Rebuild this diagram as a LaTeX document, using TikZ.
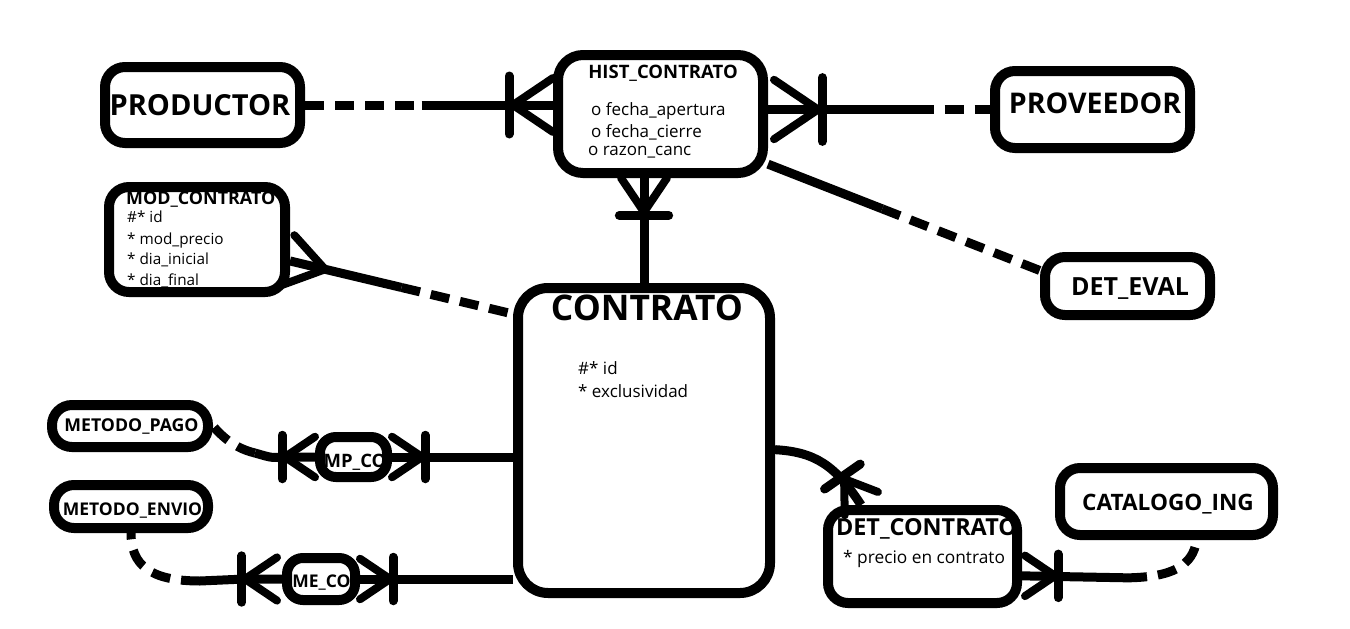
\documentclass[tikz,border=0pt]{standalone}
\usepackage{fontspec}
\setmainfont{Open Sans}
\usetikzlibrary{calc}

\tikzset{
  entity/.style={draw, line width=10pt, rounded corners=20pt, fill=white, inner sep=0pt},
  entitytitle/.style={font=\bfseries\fontsize{#1}{#1}\selectfont, inner sep=0pt, anchor=base},
  attrtext/.style={font=\fontsize{#1}{#1}\selectfont, inner sep=0pt, anchor=base west},
  solidline/.style={line width=9pt},
  dashline/.style={line width=9pt, dash pattern=on 19pt off 11pt},
  crowfoot/.pic={\draw[line width=8pt, line cap=round, line join=round] (40,-27) -- (0,0) -- (40,27);},
  crowbar/.pic={\draw[line width=8pt, line cap=round, line join=round] (40,-27) -- (0,0) -- (40,27);
    \draw[line width=9pt, line cap=round] (-4,-29) -- (-4,29);}
}

\begin{document}
\begin{tikzpicture}[x=1pt, y=-1pt]
\useasboundingbox (0,0) rectangle (1350,629);

% entities
\node[entity, minimum width=195pt, minimum height=76pt] (prod) at (202.5,105) {};
\node[entity, minimum width=205pt, minimum height=118pt, rounded corners=25pt] (hist) at (660.5,114) {};
\node[entity, minimum width=195pt, minimum height=77pt] (prov) at (1092.5,109.5) {};
\node[entity, minimum width=176pt, minimum height=105pt] (modc) at (197,239.5) {};
\node[entity, minimum width=165pt, minimum height=58pt] (deval) at (1127.5,286) {};
\node[entity, minimum width=252pt, minimum height=305pt, rounded corners=30pt] (contr) at (644,440.5) {};
\node[entity, minimum width=156pt, minimum height=42pt] (mpago) at (130,426) {};
\node[entity, minimum width=67pt, minimum height=40pt, rounded corners=16pt] (mpco) at (353.5,457) {};
\node[entity, minimum width=154pt, minimum height=43pt] (menvio) at (131,506.5) {};
\node[entity, minimum width=68pt, minimum height=42pt, rounded corners=16pt] (meco) at (321,579) {};
\node[entity, minimum width=189pt, minimum height=93pt] (detc) at (922.5,556.5) {};
\node[entity, minimum width=213pt, minimum height=67pt] (cat) at (1166.5,501.5) {};

% PRODUCTOR -- HIST_CONTRATO
\coordinate (ph) at ($(prod.east)!0.47!(prod.east -| hist.west)$);
\draw[dashline] (prod.east) -- (ph);
\draw[solidline] (ph) -- (prod.east -| hist.west);
\pic at ($(prod.east -| hist.west)+(-40,0)$) {crowbar};

% HIST_CONTRATO -- PROVEEDOR
\coordinate (hp) at ($(hist.east |- prov.west)!0.66!(prov.west)$);
\draw[solidline] (hist.east |- prov.west) -- (hp);
\draw[dashline] (hp) -- (prov.west);
\pic[rotate=180, scale=1.1] at ($(hist.east |- prov.west)+(50,0)$) {crowbar};

% HIST_CONTRATO -- CONTRATO
\draw[solidline] (contr.north) -- (contr.north |- hist.south);
\pic[rotate=90, scale=0.85] at ($(contr.north |- hist.south)+(0,34)$) {crowbar};

% HIST_CONTRATO -- DET_EVAL
\coordinate (hd) at ($(hist.-25)!0.42!(deval.170)$);
\draw[solidline] (hist.-25) -- (hd);
\draw[dashline] (hd) -- (deval.170);

% MOD_CONTRATO -- CONTRATO
\coordinate (mc) at ($(modc.-13)!0.5!(contr.136)$);
\draw[solidline] (modc.-13) -- (mc);
\draw[dashline] (mc) -- (contr.136);
\pic[rotate=166, scale=0.95] at ($(modc.-13)!36pt!(contr.136)$) {crowfoot};

% CONTRATO -- MP_CO -- METODO_PAGO
\draw[solidline] (mpco.east -| contr.west) -- (mpco.east);
\pic[rotate=180, scale=0.75] at ($(mpco.east)+(30,0)$) {crowbar};
\coordinate (mp) at (255,453);
\draw[solidline] (mpco.west) -- ++(-30,0) .. controls (272,458) .. (mp);
\draw[dashline] (mp) .. controls (238,449) and (225,440) .. (mpago.east);
\pic[scale=0.75] at ($(mpco.west)+(-30,0)$) {crowbar};

% CONTRATO -- ME_CO -- METODO_ENVIO
\draw[solidline] (meco.east -| contr.west) -- (meco.east);
\pic[rotate=180, scale=0.75] at ($(meco.east)+(30,0)$) {crowbar};
\coordinate (me) at (200,581);
\draw[solidline] (meco.west) -- ++(-37,0) -- (me);
\draw[dashline] (me) .. controls (150,581) and (131,565) .. (menvio.south);
\pic[scale=0.8] at ($(meco.west)+(-37,0)$) {crowbar};

% CONTRATO -- DET_CONTRATO
\draw[solidline] (contr.-4) .. controls (815,452) and (835,465) .. (detc.140);
\pic[rotate=-55, scale=0.75] at ($(detc.140)+(-17,-26)$) {crowbar};

% DET_CONTRATO -- CATALOGO_ING
\coordinate (dc) at ($(detc.-11)+(106,2)$);
\draw[solidline] (detc.-11) -- (dc);
\draw[dashline] (dc) .. controls (1172,577) and (1193,566) .. (cat.-52);
\pic[rotate=180, scale=0.75] at ($(detc.-11)+(33,0)$) {crowbar};

% texts
\node[entitytitle=29] (prod-t) at (200,115) {PRODUCTOR};
\node[entitytitle=28.5] (prov-t) at (1095,113) {PROVEEDOR};
\node[entitytitle=25] (deval-t) at (1130,295) {DET\_EVAL};
\node[entitytitle=17.7] (mpago-t) at (131.5,431) {METODO\_PAGO};
\node[entitytitle=18.5] (mpco-t) at (355,467) {MP\_CO};
\node[entitytitle=17.5] (menvio-t) at (132.5,515) {METODO\_ENVIO};
\node[entitytitle=17.5] (meco-t) at (321.5,587) {ME\_CO};
\node[entitytitle=22.6] (cat-t) at (1168,510) {CATALOGO\_ING};

\node[entitytitle=18.5] (hist-t) at (663,78) {HIST\_CONTRATO};
\node[attrtext=17] (hist-a1) at (591,115) {o fecha\_apertura};
\node[attrtext=17] (hist-a2) at (591,137) {o fecha\_cierre};
\node[attrtext=17] (hist-a3) at (588,155) {o razon\_canc};

\node[entitytitle=17.9, anchor=base west] (modc-t) at (126,204) {MOD\_CONTRATO};
\node[attrtext=15.3] (modc-a1) at (127,222) {\#* id};
\node[attrtext=15.3] (modc-a2) at (127,244) {* mod\_precio};
\node[attrtext=15.3] (modc-a3) at (127,264) {* dia\_inicial};
\node[attrtext=15.3] (modc-a4) at (127,285) {* dia\_final};

\node[entitytitle=35.3] (contr-t) at (647,320) {CONTRATO};
\node[attrtext=17] (contr-a1) at (578,374) {\#* id};
\node[attrtext=17] (contr-a2) at (578,397) {* exclusividad};

\node[entitytitle=23.4] (detc-t) at (926.5,535) {DET\_CONTRATO};
\node[attrtext=17.3] (detc-a1) at (843,563) {* precio en contrato};
\end{tikzpicture}
\end{document}
